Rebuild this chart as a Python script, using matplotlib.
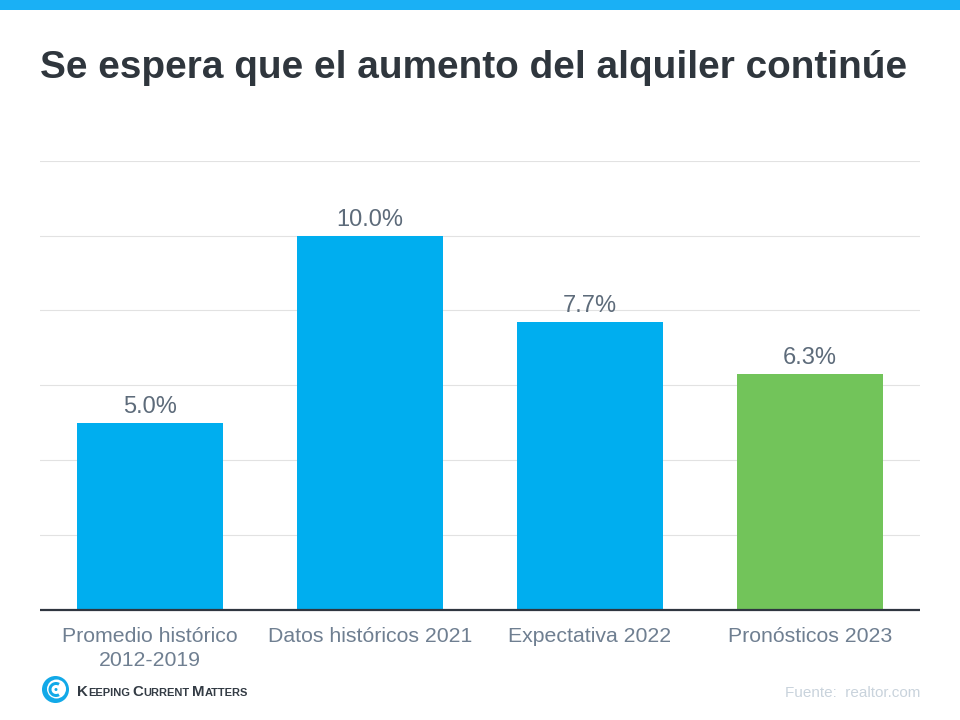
import matplotlib
matplotlib.use("Agg")
import matplotlib.pyplot as plt
from matplotlib.patches import Rectangle, Circle, Wedge

plt.rcParams['font.family'] = ['Liberation Sans', 'DejaVu Sans']

categories = ["Promedio histórico\n2012-2019", "Datos históricos 2021", "Expectativa 2022", "Pronósticos 2023"]
values = [5.0, 10.0, 7.7, 6.3]
value_labels = ["5.0%", "10.0%", "7.7%", "6.3%"]
bar_colors = ["#00AEEF", "#00AEEF", "#00AEEF", "#72C45A"]
yticks = [0, 2, 4, 6, 8, 10, 12]

W, H = 960, 720
fig = plt.figure(figsize=(9.6, 7.2), dpi=100, facecolor="white")

# top band
fig.add_artist(Rectangle((0, 1 - 10 / H), 1, 10 / H, transform=fig.transFigure, color="#1AB0F5", lw=0))

ax = fig.add_axes([40 / W, 1 - 609.6 / H, 880 / W, 448.8 / H])
ax.bar(range(4), values, width=0.667, color=bar_colors, zorder=3)
ax.set_xlim(-0.5, 3.5)
ax.set_ylim(0, 12)
ax.set_yticks(yticks)
ax.set_xticks(range(4))
ax.set_xticklabels(categories, fontsize=15.3, color="#6F7F91", linespacing=1.35)
ax.tick_params(axis="both", length=0, labelleft=False)
ax.tick_params(axis="x", pad=12.7)
ax.grid(axis="y", color="#E2E2E2", lw=0.8, zorder=0)
for s in ["top", "left", "right"]:
    ax.spines[s].set_visible(False)
ax.spines["bottom"].set_color("#2F3640")
ax.spines["bottom"].set_linewidth(1.6)
ax.spines["bottom"].set_capstyle("butt")
ax.spines["bottom"].set_zorder(5)

for i, v in enumerate(values):
    ax.annotate(value_labels[i], (i, v), xytext=(0, 3.3), textcoords="offset points",
                ha="center", va="bottom", fontsize=17, color="#5D6B7A")

fig.text(40 / W, 1 - 68 / H, "Se espera que el aumento del alquiler continúe",
         fontsize=27.87, fontweight="bold", color="#2F363D", ha="left", va="center")

fig.text(920 / W, 1 - 693 / H, "Fuente:  realtor.com", fontsize=11, color="#C9D3DC", ha="right", va="center")

# logo
lax = fig.add_axes([0, 0, 1, 1], facecolor="none")
lax.set_xlim(0, W)
lax.set_ylim(H, 0)
lax.axis("off")
lax.add_patch(Circle((55.5, 689.5), 13.5, color="#12A9E8", lw=0))
lax.add_patch(Circle((56.5, 689), 9.5, color="white", lw=0))
lax.add_patch(Wedge((56, 689.5), 7.5, 60, 300, width=3, color="#12A9E8", lw=0))
lax.add_patch(Circle((56, 689.5), 1.5, color="#12A9E8", lw=0))

x = 77
for word in ["Keeping", "Current", "Matters"]:
    t = lax.text(x, 696, word[0], fontsize=10.8, color="#333B44", ha="left", va="baseline", fontweight="bold")
    bb = t.get_window_extent(fig.canvas.get_renderer())
    x = bb.x1
    t = lax.text(x, 696, word[1:].upper(), fontsize=8, color="#333B44", ha="left", va="baseline", fontweight="bold")
    bb = t.get_window_extent(fig.canvas.get_renderer())
    x = bb.x1 + 2.5

fig.savefig("out.png", dpi=100)
